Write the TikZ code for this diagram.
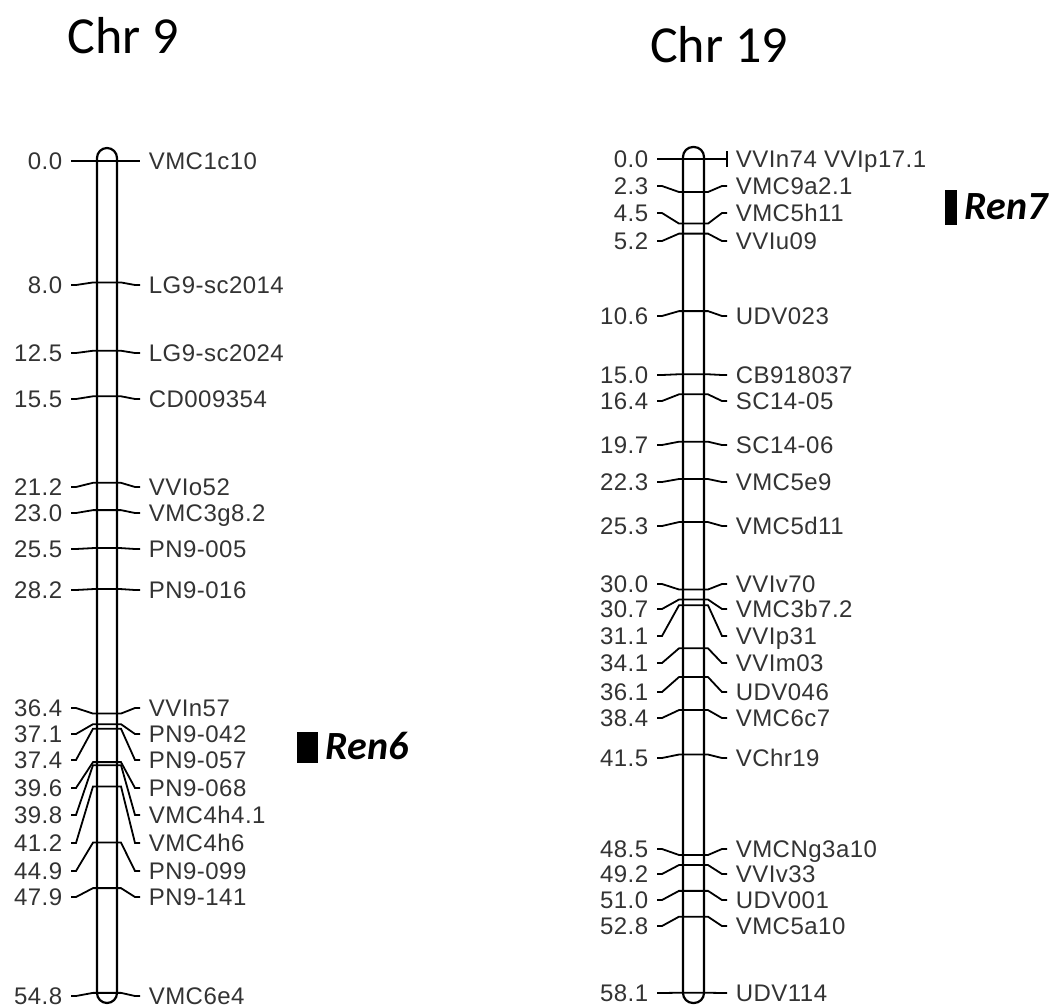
\documentclass[tikz,border=0pt]{standalone}
\usepackage{fontspec}
\setmainfont{Liberation Sans}[LetterSpace=2]
\newfontfamily\titlefont{Carlito}
\usetikzlibrary{arrows.meta}

\begin{document}
\begin{tikzpicture}[x=0.5pt, y=-0.5pt, line width=0.8pt,
  every node/.style={font=\fontsize{12}{14}\selectfont, text=black!80, inner ysep=0pt, text height=8.6pt, text depth=0pt},
  posnode/.style={anchor=east, inner xsep=4pt},
  marknode/.style={anchor=west, inner xsep=4pt},
  chrbar/.style={draw, line width=1.1pt, rounded corners=5pt},
  link/.style={line width=0.9pt},
  title/.style={font=\titlefont\fontsize{26}{30}\selectfont, text=black, anchor=base, text height=, text depth=},
  renlabel/.style={font=\titlefont\bfseries\itshape\fontsize{20}{24}\selectfont, text=black, anchor=west, inner xsep=0pt, text height=, text depth=}]
  \useasboundingbox (0,0) rectangle (1061,1007);

  % Chr 9
  \node[title] (t9) at (123,53) {Chr 9};
  \foreach \p/\ly/\m [count=\i] in {0.0/161/VMC1c10, 8.0/285/LG9-sc2014, 12.5/353/LG9-sc2024,
      15.5/399/CD009354, 21.2/487/VVIo52, 23.0/513/VMC3g8.2, 25.5/549/PN9-005, 28.2/590/PN9-016,
      36.4/708/VVIn57, 37.1/734/PN9-042, 37.4/760/PN9-057, 39.6/788/PN9-068, 39.8/815/VMC4h4.1,
      41.2/843/VMC4h6, 44.9/871/PN9-099, 47.9/897/PN9-141, 54.8/996/VMC6e4} {
    \pgfmathsetmacro\ty{161+15.18*\p}
    \node[posnode] (c9p\i) at (71,\ly) {\p};
    \node[marknode] (c9m\i) at (140,\ly) {\m};
    \coordinate (c9l\i) at (97,\ty);
    \coordinate (c9r\i) at (117,\ty);
    \draw[link] (c9p\i.east) -- ++(5,0) -- ([xshift=-2pt]c9l\i) -- (c9l\i) -- (c9r\i)
      -- ([xshift=2pt]c9r\i) -- ([xshift=-2.5pt]c9m\i.west) -- (c9m\i.west);
  }
  \draw[chrbar] (97,148) rectangle (117,1003);

  % Chr 19
  \node[title] (t19) at (719,62) {Chr 19};
  \foreach \p/\ly/\m [count=\i] in {0.0/159/{VVIn74 VVIp17.1}, 2.3/186/VMC9a2.1, 4.5/213/VMC5h11,
      5.2/241/VVIu09, 10.6/316/UDV023, 15.0/375/CB918037, 16.4/401/SC14-05, 19.7/445/SC14-06,
      22.3/482/VMC5e9, 25.3/526/VMC5d11, 30.0/584/VVIv70, 30.7/609/VMC3b7.2, 31.1/636/VVIp31,
      34.1/663/VVIm03, 36.1/692/UDV046, 38.4/718/VMC6c7, 41.5/758/VChr19, 48.5/849/VMCNg3a10,
      49.2/874/VVIv33, 51.0/900/UDV001, 52.8/926/VMC5a10, 58.1/993/UDV114} {
    \pgfmathsetmacro\ty{159+14.35*\p}
    \node[posnode] (c19p\i) at (657,\ly) {\p};
    \node[marknode] (c19m\i) at (727,\ly) {\m};
    \coordinate (c19l\i) at (683,\ty);
    \coordinate (c19r\i) at (704,\ty);
    \draw[link] (c19p\i.east) -- ++(5,0) -- ([xshift=-2pt]c19l\i) -- (c19l\i) -- (c19r\i)
      -- ([xshift=2pt]c19r\i) -- ([xshift=-2.5pt]c19m\i.west) -- (c19m\i.west);
  }
  \draw[link] (c19m1.west) +(0,-8) -- +(0,8);
  \draw[chrbar] (683,147) rectangle (704,1003);

  % QTL
  \fill (297,732) rectangle (318,763);
  \node[renlabel] (ren6) at (325,746) {Ren6};
  \fill (945,190) rectangle (957,225);
  \node[renlabel] (ren7) at (964,207) {Ren7};
\end{tikzpicture}
\end{document}
